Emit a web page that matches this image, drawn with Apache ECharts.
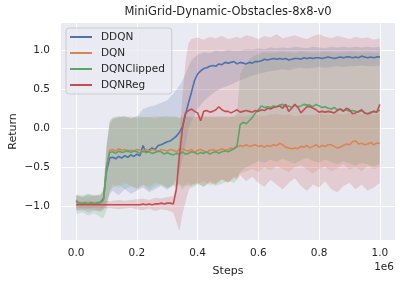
<!DOCTYPE html>
<html><head><meta charset="utf-8">
<script src="https://cdn.jsdelivr.net/npm/echarts@6/dist/echarts.min.js"></script>
<style>html,body{margin:0;padding:0;background:#fff}#c{width:408px;height:284px}</style>
</head><body><div id="c"></div>
<script>
// x grid in units of 1e6 steps
const meanSteps = [0,0.01,0.02,0.03,0.04,0.05,0.06,0.07,0.08,0.09,0.10,0.11,0.12,0.13,0.14,0.15,0.16,0.17,0.18,0.19,0.20,0.21,0.22,0.23,0.24,0.25,0.26,0.27,0.28,0.29,0.30,0.31,0.32,0.33,0.34,0.35,0.36,0.37,0.38,0.39,0.40,0.41,0.42,0.43,0.44,0.45,0.46,0.47,0.48,0.49,0.50,0.51,0.52,0.53,0.54,0.55,0.56,0.57,0.58,0.59,0.60,0.61,0.62,0.63,0.64,0.65,0.66,0.67,0.68,0.69,0.70,0.71,0.72,0.73,0.74,0.75,0.76,0.77,0.78,0.79,0.80,0.81,0.82,0.83,0.84,0.85,0.86,0.87,0.88,0.89,0.90,0.91,0.92,0.93,0.94,0.95,0.96,0.97,0.98,0.99,1.00];

const ddqnMean = [-0.93,-0.96,-0.97,-0.96,-0.97,-0.96,-0.97,-0.96,-0.95,-0.90,
-0.55,-0.38,-0.37,-0.39,-0.36,-0.38,-0.35,-0.37,-0.34,-0.36,
-0.33,-0.35,-0.22,-0.31,-0.28,-0.25,-0.27,-0.22,-0.21,-0.19,
-0.17,-0.16,-0.13,-0.10,-0.05,0.02,0.18,0.33,0.47,0.62,
0.70,0.74,0.77,0.78,0.80,0.81,0.80,0.83,0.82,0.85,
0.84,0.85,0.86,0.83,0.85,0.84,0.83,0.85,0.84,0.86,
0.86,0.87,0.89,0.88,0.89,0.90,0.89,0.90,0.89,0.90,
0.88,0.89,0.90,0.90,0.89,0.91,0.90,0.91,0.90,0.91,
0.91,0.90,0.91,0.92,0.91,0.90,0.91,0.92,0.91,0.92,
0.92,0.91,0.92,0.91,0.93,0.92,0.91,0.92,0.91,0.92,
0.92];
const dqnMean = [-0.92,-0.96,-0.97,-0.97,-0.96,-0.97,-0.96,-0.97,-0.96,-0.92,
-0.50,-0.28,-0.27,-0.29,-0.26,-0.28,-0.27,-0.30,-0.28,-0.29,
-0.27,-0.28,-0.30,-0.27,-0.29,-0.27,-0.28,-0.30,-0.27,-0.28,
-0.29,-0.27,-0.28,-0.30,-0.27,-0.26,-0.28,-0.29,-0.27,-0.31,
-0.28,-0.27,-0.29,-0.31,-0.28,-0.27,-0.29,-0.28,-0.26,-0.28,
-0.27,-0.25,-0.26,-0.24,-0.22,-0.23,-0.21,-0.23,-0.22,-0.21,
-0.23,-0.22,-0.24,-0.22,-0.23,-0.21,-0.22,-0.19,-0.21,-0.24,
-0.25,-0.26,-0.25,-0.26,-0.23,-0.24,-0.22,-0.25,-0.23,-0.21,
-0.24,-0.22,-0.23,-0.21,-0.21,-0.23,-0.25,-0.24,-0.22,-0.20,
-0.21,-0.17,-0.16,-0.20,-0.19,-0.21,-0.20,-0.18,-0.21,-0.19,
-0.19];
const clippedMean = [-0.94,-0.97,-0.96,-0.97,-0.97,-0.96,-0.97,-0.96,-0.95,-0.92,
-0.50,-0.31,-0.30,-0.32,-0.29,-0.31,-0.30,-0.28,-0.31,-0.29,
-0.30,-0.32,-0.29,-0.31,-0.30,-0.32,-0.31,-0.29,-0.30,-0.33,
-0.31,-0.33,-0.34,-0.32,-0.33,-0.30,-0.33,-0.32,-0.30,-0.31,
-0.33,-0.31,-0.32,-0.30,-0.33,-0.31,-0.30,-0.32,-0.30,-0.29,
-0.30,-0.28,-0.26,-0.22,0.05,0.08,0.06,0.10,0.14,0.20,
0.24,0.29,0.27,0.28,0.27,0.29,0.28,0.30,0.31,0.28,
0.29,0.27,0.30,0.28,0.29,0.31,0.30,0.30,0.28,0.31,
0.29,0.27,0.28,0.26,0.25,0.27,0.24,0.25,0.23,0.24,
0.22,0.23,0.22,0.21,0.23,0.20,0.19,0.21,0.22,0.21,
0.24];
const regMean = [-0.98,-0.98,-0.98,-0.98,-0.98,-0.98,-0.98,-0.98,-0.98,-0.98,
-0.98,-0.98,-0.98,-0.98,-0.98,-0.98,-0.98,-0.98,-0.98,-0.98,
-0.98,-0.98,-0.97,-0.98,-0.97,-0.98,-0.97,-0.97,-0.96,-0.97,
-0.96,-0.96,-0.97,-0.78,-0.35,0.00,0.20,0.23,0.25,0.22,
0.20,0.10,0.22,0.23,0.21,0.22,0.24,0.28,0.24,0.22,
0.22,0.20,0.22,0.24,0.21,0.22,0.23,0.22,0.21,0.23,
0.22,0.24,0.23,0.26,0.25,0.27,0.28,0.29,0.26,0.31,
0.22,0.26,0.31,0.27,0.20,0.24,0.28,0.28,0.26,0.24,
0.21,0.22,0.21,0.22,0.21,0.20,0.23,0.25,0.22,0.26,
0.24,0.19,0.20,0.22,0.24,0.20,0.19,0.20,0.22,0.21,
0.31];

// confidence bands (x in 1e6 steps)
const bandSteps = [0,0.02,0.04,0.06,0.08,0.09,0.10,0.11,0.12,0.14,0.16,0.18,0.20,0.22,0.24,0.26,0.28,0.30,0.32,0.33,0.34,0.35,0.36,0.37,0.38,0.40,0.42,0.44,0.46,0.48,0.50,0.52,0.53,0.54,0.56,0.58,0.60,0.62,0.64,0.66,0.68,0.70,0.72,0.74,0.76,0.78,0.80,0.82,0.84,0.86,0.88,0.90,0.92,0.94,0.96,0.98,1.00];
const ddqnLow = [-1.06,-1.04,-1.08,-1.05,-1.07,-1.04,-0.95,-0.85,
-0.80,-0.86,-0.78,-0.84,-0.80,-0.76,-0.82,-0.78,-0.74,-0.79,-0.72,
-0.65,-0.55,-0.40,-0.20,0.00,
0.10,0.25,0.35,0.42,0.48,0.52,0.55,0.58,0.60,
0.62,0.65,0.68,0.70,0.72,0.74,0.75,0.76,0.75,0.77,0.78,0.77,0.78,0.79,0.78,0.79,0.80,0.79,0.80,0.80,0.81,0.80,0.80,0.81];
const ddqnHigh = [-0.86,-0.88,-0.85,-0.87,-0.86,-0.80,-0.20,0.05,
0.12,0.14,0.16,0.13,0.15,0.25,0.28,0.30,0.33,0.36,0.45,
0.50,0.55,0.62,0.70,0.80,
0.88,0.95,0.98,0.97,1.00,0.99,1.01,1.00,1.00,
1.00,1.02,1.01,1.03,1.02,1.04,1.03,1.04,1.03,1.05,1.04,1.03,1.05,1.04,1.03,1.05,1.04,1.05,1.04,1.05,1.04,1.05,1.04,1.05];
const dqnLow = [-1.04,-1.06,-1.03,-1.05,-1.06,-1.05,-1.00,-0.80,
-0.72,-0.76,-0.70,-0.74,-0.78,-0.72,-0.75,-0.70,-0.73,-0.76,-0.72,
-0.74,-0.71,-0.75,-0.72,-0.70,
-0.74,-0.71,-0.68,-0.73,-0.70,-0.66,-0.69,-0.64,-0.62,
-0.58,-0.55,-0.52,-0.56,-0.50,-0.54,-0.48,-0.52,-0.56,-0.50,-0.47,-0.53,-0.58,-0.52,-0.49,-0.55,-0.51,-0.46,-0.53,-0.50,-0.55,-0.48,-0.52,-0.50];
const dqnHigh = [-0.86,-0.88,-0.87,-0.86,-0.85,-0.80,-0.25,0.08,
0.13,0.15,0.14,0.16,0.13,0.15,0.14,0.16,0.15,0.14,0.16,
0.15,0.14,0.16,0.15,0.14,
0.16,0.15,0.14,0.16,0.15,0.14,0.16,0.15,0.16,
0.17,0.16,0.18,0.17,0.16,0.18,0.19,0.17,0.18,0.16,0.17,0.18,0.17,0.19,0.18,0.17,0.19,0.18,0.20,0.19,0.18,0.19,0.18,0.19];
const clippedLow = [-1.10,-1.08,-1.12,-1.09,-1.14,-1.15,-1.05,-0.82,
-0.76,-0.72,-0.78,-0.74,-0.77,-0.73,-0.79,-0.75,-0.71,-0.77,-0.74,
-0.76,-0.72,-0.78,-0.74,-0.73,
-0.77,-0.72,-0.75,-0.70,-0.74,-0.71,-0.68,-0.70,-0.66,
-0.55,-0.50,-0.46,-0.42,-0.44,-0.40,-0.43,-0.39,-0.42,-0.45,-0.41,-0.38,-0.42,-0.44,-0.40,-0.43,-0.46,-0.42,-0.45,-0.48,-0.44,-0.46,-0.49,-0.45];
const clippedHigh = [-0.85,-0.86,-0.84,-0.86,-0.85,-0.78,-0.25,0.10,
0.14,0.16,0.15,0.13,0.16,0.14,0.15,0.13,0.15,0.16,0.14,
0.15,0.13,0.14,0.16,0.15,
0.14,0.15,0.16,0.14,0.15,0.16,0.14,0.16,0.20,
0.70,0.85,0.92,0.96,0.98,0.97,0.98,0.99,0.98,0.97,0.99,0.98,0.97,0.98,0.99,0.98,0.97,0.98,0.99,0.98,0.97,0.98,0.97,0.98];
const regLow = [-1.03,-1.02,-1.03,-1.02,-1.03,-1.02,-1.03,-1.02,
-1.03,-1.04,-1.03,-1.02,-1.04,-1.05,-1.03,-1.06,-1.04,-1.05,-1.08,
-1.20,-1.32,-1.10,-0.95,-0.80,
-0.72,-0.70,-0.75,-0.68,-0.72,-0.65,-0.70,-0.62,-0.66,
-0.60,-0.68,-0.62,-0.70,-0.75,-0.66,-0.72,-0.78,-0.70,-0.64,-0.74,-0.80,-0.72,-0.76,-0.68,-0.78,-0.82,-0.74,-0.70,-0.78,-0.72,-0.80,-0.76,-0.70];
const regHigh = [-0.93,-0.94,-0.93,-0.94,-0.93,-0.94,-0.93,-0.94,
-0.93,-0.92,-0.93,-0.92,-0.91,-0.90,-0.92,-0.89,-0.90,-0.88,-0.87,
-0.70,-0.10,0.40,0.85,1.10,
1.15,1.17,1.14,1.18,1.16,1.19,1.15,1.17,1.18,
1.16,1.20,1.18,1.15,1.19,1.17,1.21,1.16,1.18,1.20,1.17,1.15,1.19,1.21,1.18,1.16,1.19,1.17,1.15,1.18,1.16,1.17,1.14,1.16];

const seriesNames = ['DDQN','DQN','DQNClipped','DQNReg'];
const xTicks = [0,0.2,0.4,0.6,0.8,1.0];
const yTicks = [-1.0,-0.5,0.0,0.5,1.0];
const titleText = 'MiniGrid-Dynamic-Obstacles-8x8-v0';

const colors = ['#4C72B0','#DD8452','#55A868','#C44E52'];
const means = [ddqnMean, dqnMean, clippedMean, regMean];
const lows = [ddqnLow, dqnLow, clippedLow, regLow];
const highs = [ddqnHigh, dqnHigh, clippedHigh, regHigh];
const FONT = 'DejaVu Sans';
const TXT = '#262626';

const chart = echarts.init(document.getElementById('c'), null, {renderer:'canvas'});
const series = [];
seriesNames.forEach((n, k) => {
  series.push({
    type: 'custom', name: n + ' band', silent: true, clip: true, z: 1,
    encode: {x: 0, y: [1, 2]},
    data: bandSteps.map((x, i) => [x, lows[k][i], highs[k][i]]),
    renderItem: (params, api) => {
      if (params.dataIndex !== 0) return {type: 'group', children: []};
      const pts = [];
      for (let i = 0; i < bandSteps.length; i++) pts.push(api.coord([bandSteps[i], lows[k][i]]));
      for (let i = bandSteps.length - 1; i >= 0; i--) pts.push(api.coord([bandSteps[i], highs[k][i]]));
      return {type: 'polygon', shape: {points: pts}, style: {fill: colors[k], opacity: 0.2}};
    }
  });
});
seriesNames.forEach((n, k) => {
  series.push({
    type: 'line', name: n, showSymbol: false, symbol: 'none', z: 3 + k,
    data: meanSteps.map((x, i) => [x, means[k][i]]),
    lineStyle: {color: colors[k], width: 1.6}, itemStyle: {color: colors[k]}
  });
});

chart.setOption({
  animation: false,
  backgroundColor: '#ffffff',
  color: colors,
  grid: {left: 61, right: 13, top: 23, bottom: 44, backgroundColor: '#EAEAF2', show: true, borderWidth: 0, containLabel: false, outerBoundsMode: 'none'},
  xAxis: {
    type: 'value', min: -0.05, max: 1.05,
    name: 'Steps', nameLocation: 'middle', nameGap: 26, nameMoveOverlap: false,
    nameTextStyle: {fontFamily: FONT, fontSize: 11, color: TXT},
    axisLine: {show: false},
    axisTick: {show: false, customValues: xTicks},
    axisLabel: {customValues: xTicks, formatter: v => v.toFixed(1), fontFamily: FONT, fontSize: 10.5, color: TXT, margin: 8},
    splitLine: {show: true, lineStyle: {color: '#ffffff', width: 1}}
  },
  yAxis: {
    type: 'value', min: -1.434, max: 1.356,
    name: 'Return', nameLocation: 'middle', nameGap: 42, nameRotate: 90, nameMoveOverlap: false,
    nameTextStyle: {fontFamily: FONT, fontSize: 11, color: TXT},
    axisLine: {show: false},
    axisTick: {show: false, customValues: yTicks},
    axisLabel: {customValues: yTicks, formatter: v => v.toFixed(1).replace('-', '\u2212'), fontFamily: FONT, fontSize: 10.5, color: TXT, margin: 11},
    splitLine: {show: true, lineStyle: {color: '#ffffff', width: 1}}
  },
  legend: {
    data: seriesNames, orient: 'vertical', left: 66, top: 28,
    icon: 'rect', itemWidth: 22, itemHeight: 2, itemGap: 4,
    padding: [3, 7, 3, 4],
    backgroundColor: 'rgba(234,234,242,0.8)', borderColor: '#cccccc', borderWidth: 1, borderRadius: 3,
    textStyle: {fontFamily: FONT, fontSize: 10.5, color: TXT, lineHeight: 12, padding: [0, 0, 0, 4]}
  },
  graphic: [
    {type: 'text', x: 228, y: 12, style: {text: titleText, textAlign: 'center', textVerticalAlign: 'middle', font: '11.5px "DejaVu Sans"', fill: TXT}},
    {type: 'text', x: 394, y: 267, style: {text: '1e6', textAlign: 'right', textVerticalAlign: 'middle', font: '10.5px "DejaVu Sans"', fill: TXT}}
  ],
  series: series
});
</script></body></html>
